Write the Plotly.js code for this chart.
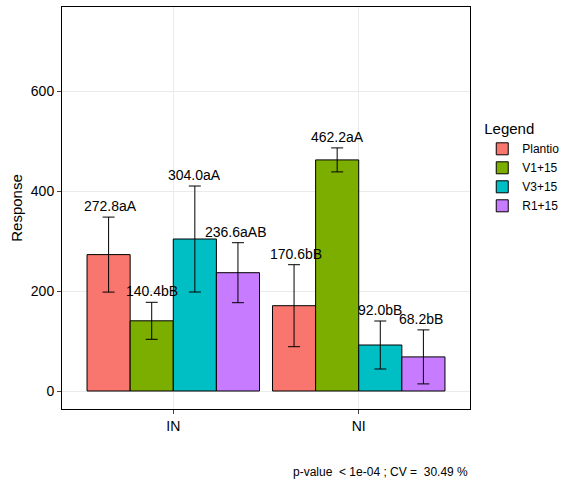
<html><head><script src="https://cdn.plot.ly/plotly-3.0.1.min.js"></script></head><body style="margin:0">
<div id="c" style="width:576px;height:480px"></div>
<script>
const categories = ["IN", "NI"];
const series = ["Plantio", "V1+15", "V3+15", "R1+15"];
const colors = ["#F8766D", "#7CAE00", "#00BFC4", "#C77CFF"];
const values = [[272.8, 170.6], [140.4, 462.2], [304.0, 92.0], [236.6, 68.2]];
const errors = [[75, 82], [37, 24], [106, 48], [60, 54]];
const labels = [["272.8aA", "170.6bB"], ["140.4bB", "462.2aA"], ["304.0aA", "92.0bB"], ["236.6aAB", "68.2bB"]];
const note = "p-value  < 1e-04 ; CV =  30.49 %";

const traces = series.map((s, i) => ({
  type: "bar", name: s, x: [0, 1], y: values[i],
  marker: {color: colors[i], line: {color: "black", width: 1}},
  error_y: {type: "data", array: errors[i], color: "black", thickness: 1, width: 6}
}));
const ann = [];
series.forEach((s, i) => {
  [0, 1].forEach(j => ann.push({
    x: j + (i - 1.5) * 0.225, y: values[i][j] + errors[i][j], xref: "x", yref: "y",
    text: labels[i][j], showarrow: false, yanchor: "bottom", yshift: 1,
    font: {size: 14, color: "black"}
  }));
});
ann.push({x: 1, y: -0.18, xref: "paper", yref: "paper", xanchor: "right", text: note, showarrow: false, font: {size: 12, color: "black"}});
Plotly.newPlot("c", traces, {
  width: 576, height: 480, margin: {l: 62, r: 106, t: 7, b: 71},
  barmode: "group", bargap: 0.07, bargroupgap: 0,
  font: {family: "Liberation Sans, Arial", color: "black"},
  plot_bgcolor: "white", paper_bgcolor: "white",
  xaxis: {tickvals: [0, 1], ticktext: categories, range: [-0.6, 1.6], showline: true, mirror: true, linecolor: "black",
    ticks: "outside", ticklen: 4, tickfont: {size: 14}, gridcolor: "#ebebeb", showgrid: true, zeroline: false},
  yaxis: {title: {text: "Response", font: {size: 15}}, range: [-36, 768], tickvals: [0, 200, 400, 600], showline: true, mirror: true,
    linecolor: "black", ticks: "outside", ticklen: 4, tickfont: {size: 14}, gridcolor: "#ebebeb", zeroline: false},
  legend: {title: {text: "Legend", font: {size: 15}}, x: 1.03, y: 0.6, yanchor: "middle", font: {size: 12}, tracegroupgap: 4},
  annotations: ann
}, {displayModeBar: false});
</script></body></html>
